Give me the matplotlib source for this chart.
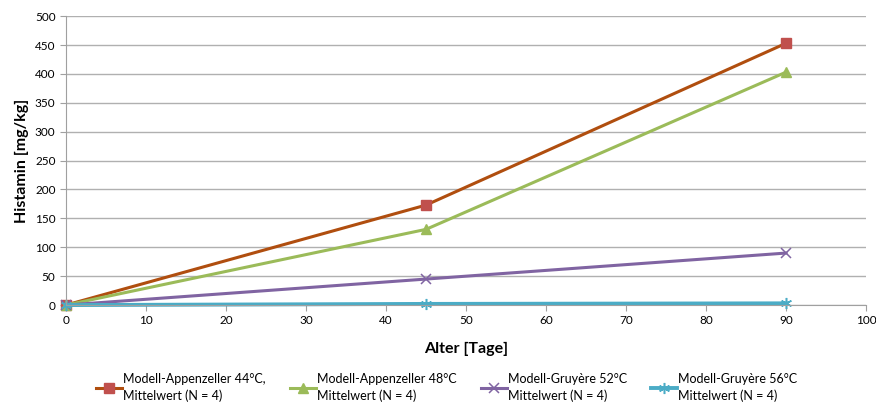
import matplotlib.pyplot as plt

tage = [0, 45, 90]
appenzeller_44 = [0, 173, 453]
appenzeller_48 = [0, 131, 403]
gruyere_52 = [0, 45, 90]
gruyere_56 = [0, 2, 3]

labels = ['Modell-Appenzeller 44°C,\nMittelwert (N = 4)',
          'Modell-Appenzeller 48°C\nMittelwert (N = 4)',
          'Modell-Gruyère 52°C\nMittelwert (N = 4)',
          'Modell-Gruyère 56°C\nMittelwert (N = 4)']

plt.rcParams['font.family'] = ['Lato', 'DejaVu Sans']

fig = plt.figure(figsize=(8.76, 4.03), dpi=100)
ax = fig.add_axes([0.0753, 0.243, 0.9133, 0.717])

ax.plot(tage, appenzeller_44, color='#B04E0F', lw=2.2, marker='s', ms=6.5,
        mfc='#C0504D', mec='#C0504D', label=labels[0])
ax.plot(tage, appenzeller_48, color='#9BBB59', lw=2.2, marker='^', ms=6.5,
        mfc='#9BBB59', mec='#9BBB59', label=labels[1])
ax.plot(tage, gruyere_52, color='#8064A2', lw=2.2, marker='x', ms=7,
        mew=1.1, label=labels[2])
ax.plot(tage, gruyere_56, color='#4BACC6', lw=2.8, marker=(6, 2, 0), ms=8,
        mew=1.1, label=labels[3])

ax.set_xlim(0, 100)
ax.set_ylim(0, 500)
ax.set_xticks(range(0, 101, 10))
ax.set_yticks(range(0, 501, 50))
ax.grid(axis='y', color='#B0B0B0', lw=1)
ax.set_axisbelow(True)
for s in ['top', 'right']:
    ax.spines[s].set_visible(False)
for s in ['left', 'bottom']:
    ax.spines[s].set_color('#A0A0A0')
ax.tick_params(colors='#A0A0A0', labelcolor='black', labelsize=8.5, length=4)
for p in ax.get_lines():
    p.set_clip_on(False)

ax.set_xlabel('Alter [Tage]', fontsize=11.5, fontweight='bold', labelpad=11)
ax.set_ylabel('Histamin [mg/kg]', fontsize=11.5, fontweight='bold', labelpad=4)

leg = ax.legend(loc='upper center', bbox_to_anchor=(0.476, -0.195), ncol=4, frameon=False,
                fontsize=9, handlelength=2.1, columnspacing=1.9, handletextpad=0.1)
for t in leg.get_texts():
    t.set_linespacing(1.45)

fig.savefig('out.png', dpi=100)
